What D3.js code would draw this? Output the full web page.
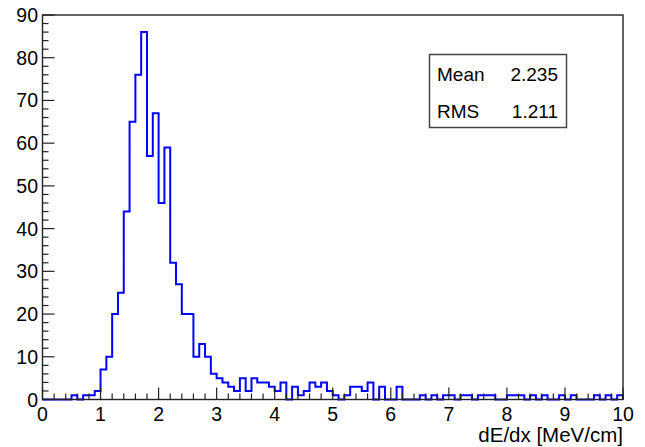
<!DOCTYPE html>
<html>
<head>
<meta charset="utf-8">
<script src="https://cdn.jsdelivr.net/npm/d3@7"></script>
<style>
  body { margin: 0; background: #fff; }
  text { font-family: "Liberation Sans", Arial, sans-serif; fill: #000; }
</style>
</head>
<body>
<svg width="645" height="447"></svg>
<script>
// Histogram: 100 bins on [0, 10]
var xMin = 0, xMax = 10, nBins = 100;
var counts = [
  0, 0, 0, 0, 0, 1, 0, 1, 1, 2,
  7, 10, 20, 25, 44, 65, 76, 86, 57, 67,
  46, 59, 32, 27, 20, 20, 10, 13, 10, 6,
  5, 4, 3, 2, 5, 2, 5, 4, 4, 3,
  2, 4, 0, 3, 1, 2, 4, 3, 4, 2,
  1, 0, 1, 3, 3, 2, 4, 0, 3, 0,
  0, 3, 0, 0, 0, 1, 0, 1, 0, 1,
  1, 0, 1, 1, 0, 1, 1, 1, 0, 0,
  1, 1, 1, 0, 1, 0, 1, 0, 0, 1,
  0, 1, 0, 0, 0, 1, 0, 1, 0, 1
];
var xTicks = [0, 1, 2, 3, 4, 5, 6, 7, 8, 9, 10];
var yTicks = [0, 10, 20, 30, 40, 50, 60, 70, 80, 90];
var statNames = ["Mean", "RMS"];
var statValues = ["2.235", "1.211"];
var xTitle = "dE/dx [MeV/cm]";

var svg = d3.select("svg");

var x = d3.scaleLinear().domain([xMin, xMax]).range([42.5, 623]);
var y = d3.scaleLinear().domain([0, 90]).range([399.5, 15]);

var binW = (xMax - xMin) / nBins;

// histogram outline
var pts = [[xMin, 0]];
counts.forEach(function(c, i) {
  pts.push([xMin + i * binW, c]);
});
pts.push([xMax, counts[nBins - 1]]);
pts.push([xMax, 0]);

var line = d3.line()
  .x(function(d) { return x(d[0]); })
  .y(function(d) { return y(d[1]); })
  .curve(d3.curveStepAfter);

svg.append("path")
  .attr("d", line(pts))
  .style("fill", "none")
  .style("stroke", "#0000ff")
  .style("stroke-width", 2);

// frame
svg.append("rect")
  .attr("x", x(xMin)).attr("y", y(90))
  .attr("width", x(xMax) - x(xMin)).attr("height", y(0) - y(90))
  .style("fill", "none")
  .style("stroke", "#222")
  .style("stroke-width", 1.4);

// x ticks: major every 1, minor every 0.2
var g = svg.append("g").attr("class", "ticks");
d3.range(0, 51).forEach(function(k) {
  var v = k * 0.2;
  var major = k % 5 === 0;
  g.append("line")
    .attr("x1", x(v)).attr("x2", x(v))
    .attr("y1", y(0)).attr("y2", y(0) - (major ? 12 : 6))
    .style("stroke", "#222").style("stroke-width", 1.2);
});
// y ticks: major every 10, minor every 2
d3.range(0, 46).forEach(function(k) {
  var v = k * 2;
  var major = k % 5 === 0;
  g.append("line")
    .attr("x1", x(0)).attr("x2", x(0) + (major ? 12 : 6))
    .attr("y1", y(v)).attr("y2", y(v))
    .style("stroke", "#222").style("stroke-width", 1.2);
});

svg.selectAll(".xlab")
  .data(xTicks)
  .enter().append("text")
  .attr("x", function(d) { return x(d); })
  .attr("y", 421)
  .attr("text-anchor", "middle")
  .style("font-size", "19.5px")
  .text(function(d) { return d; });

svg.selectAll(".ylab")
  .data(yTicks)
  .enter().append("text")
  .attr("x", 38)
  .attr("y", function(d) { return y(d) + 7; })
  .attr("text-anchor", "end")
  .style("font-size", "19.5px")
  .text(function(d) { return d; });

svg.append("text")
  .attr("x", 623)
  .attr("y", 442)
  .attr("text-anchor", "end")
  .style("font-size", "20.5px")
  .text(xTitle);

// stats box
svg.append("rect")
  .attr("x", 429.5).attr("y", 54.5)
  .attr("width", 137).attr("height", 73)
  .style("fill", "#fff")
  .style("stroke", "#444")
  .style("stroke-width", 1.5);

statNames.forEach(function(n, i) {
  svg.append("text")
    .attr("x", 437).attr("y", 81 + i * 37)
    .style("font-size", "19px")
    .text(n);
  svg.append("text")
    .attr("x", 558).attr("y", 81 + i * 37)
    .attr("text-anchor", "end")
    .style("font-size", "19px")
    .text(statValues[i]);
});
</script>
</body>
</html>
